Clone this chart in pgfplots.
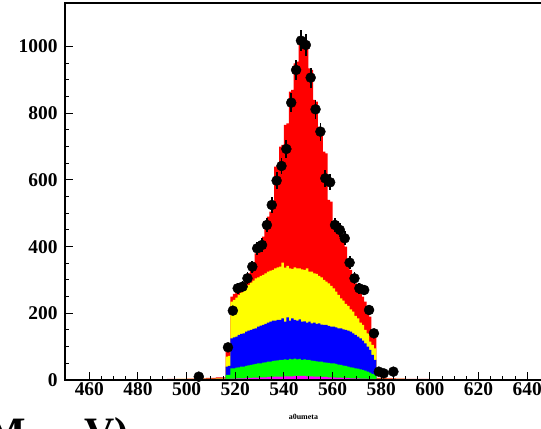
\documentclass[border=0pt]{standalone}
\usepackage{fontspec}
\setmainfont{Liberation Serif}
\usepackage{pgfplots}
\pgfplotsset{compat=1.18}
\usepackage{pgfplotstable}
\definecolor{rRed}{RGB}{255,0,0}
\definecolor{rYel}{RGB}{255,255,0}
\definecolor{rBlu}{RGB}{0,0,255}
\definecolor{rGrn}{RGB}{0,255,0}
\definecolor{rMag}{RGB}{255,0,255}

% cumulative tops of the stacked components (bin left edges, 1 MeV bins)
\pgfplotstableread{
x r yl b g m
488 2 2 1 0 0
492 3 2 1 1 0
496 3 3 2 1 1
500 4 3 2 1 1
504 5 4 3 2 1
508 6 4 3 2 1
512 8 5 3 2 1
516 85 70 40 15 3
517 95 72 42 15 3
518 250 235 125 35 4
519 258 240 128 35 4
520 268 247 130 37 5
521 275 255 135 38 5
522 282 262 138 40 5
523 290 270 140 40 5
524 305 277 145 42 6
525 320 285 148 44 6
526 340 292 150 45 6
527 352 298 153 47 7
528 380 305 155 48 7
529 398 308 160 50 7
530 415 312 163 50 8
531 430 315 165 52 8
532 465 320 168 53 8
533 490 325 172 55 9
534 505 328 175 55 9
535 515 330 178 57 9
536 640 335 178 58 10
537 645 338 180 59 10
538 700 340 180 60 10
539 705 352 185 60 10
540 765 337 175 62 11
541 770 342 188 60 11
542 865 335 178 63 11
543 870 333 185 62 11
544 950 338 180 64 12
545 955 335 178 62 12
546 1010 335 182 63 12
547 1012 332 175 60 12
548 1008 330 176 62 12
549 1005 335 172 60 11
550 935 325 175 60 11
551 930 325 170 58 11
552 840 320 172 57 10
553 835 318 168 56 10
554 760 312 170 55 10
555 740 308 166 55 9
556 685 300 165 53 9
557 680 295 165 52 9
558 540 290 162 51 8
559 535 282 160 50 8
560 470 275 160 50 8
561 460 265 158 48 7
562 445 255 155 46 7
563 440 245 155 45 7
564 420 238 152 43 6
565 400 228 150 42 6
566 340 222 148 40 6
567 330 212 145 38 5
568 300 205 140 37 5
569 290 192 135 35 5
570 275 185 130 34 5
571 265 172 125 32 4
572 250 165 118 30 4
573 235 150 110 28 4
574 200 140 100 25 3
575 190 115 90 22 3
576 150 105 75 18 3
577 130 95 60 15 2
578 6 4 3 1 1
582 5 3 2 1 1
586 4 3 2 1 1
590 3 2 1 1 1
600 2 1 1 1 1
620 1 1 1 0 1
640 1 1 1 0 1
}\stack

% data points (2 MeV bins)
\pgfplotstableread{
x y ey
505 10 3.2
517 98 9.9
519 208 14.4
521 275 16.6
523 280 16.7
525 305 17.5
527 340 18.4
529 395 19.9
531 405 20.1
533 465 21.6
535 525 22.9
537 598 24.5
539 642 25.3
541 693 26.3
543 832 28.8
545 930 30.5
547 1018 31.9
549 1005 31.7
551 907 30.1
553 812 28.5
555 745 27.3
557 605 24.6
559 593 24.4
561 465 21.6
563 450 21.2
565 425 20.6
567 352 18.8
569 305 17.5
571 275 16.6
573 270 16.4
575 210 14.5
577 140 11.8
579 25 5
581 20 4.5
585 25 5
}\data

\begin{document}
\begin{tikzpicture}
\begin{axis}[
  at={(65bp,49bp)}, anchor=south west,
  scale only axis, width=486.5bp, height=376.7bp,
  xmin=450, xmax=650, ymin=0, ymax=1130,
  xtick={460,480,...,640}, ytick={0,200,...,1000},
  minor x tick num=3, minor y tick num=3,
  xtick pos=left, ytick pos=left,
  tick align=inside,
  major tick length=8bp, minor tick length=4bp,
  every tick/.style={black, line width=1bp},
  axis line style={line width=1.8bp},
  axis on top,
  /pgf/number format/assume math mode=true,
  /pgf/number format/1000 sep={},
  tick label style={font=\fontsize{19.5}{20}\selectfont\bfseries},
  yticklabel style={xshift=-4bp},
  xticklabel style={yshift=1bp},
  xlabel={a0umeta},
  xlabel style={font=\fontsize{8}{9}\selectfont\bfseries, at={(axis description cs:0.49,0)}, anchor=center, yshift=-37bp},
]
\addplot[draw=none, fill=rRed, const plot mark left] table[x=x,y=r]{\stack} \closedcycle;
\addplot[draw=none, fill=rYel, const plot mark left] table[x=x,y=yl]{\stack} \closedcycle;
\addplot[draw=none, fill=rBlu, const plot mark left] table[x=x,y=b]{\stack} \closedcycle;
\addplot[draw=none, fill=rGrn, const plot mark left] table[x=x,y=g]{\stack} \closedcycle;
\addplot[draw=none, fill=rMag, const plot mark left] table[x=x,y=m]{\stack} \closedcycle;
\addplot[only marks, mark=*, mark size=5bp, black,
  error bars/.cd, y dir=both, y explicit, error mark=none,
  error bar style={line width=1.8bp, black}]
  table[x=x,y=y,y error=ey]{\data};
\end{axis}
\node[font=\fontsize{42}{44}\selectfont\bfseries, anchor=base west, inner sep=0pt] at (-28bp,-17bp) {(M\hspace{20bp}\raisebox{-14bp}{e}\hspace{20bp}V)};
\pgfresetboundingbox
\useasboundingbox (0,0) rectangle (541bp,429bp);
\end{tikzpicture}
\end{document}
